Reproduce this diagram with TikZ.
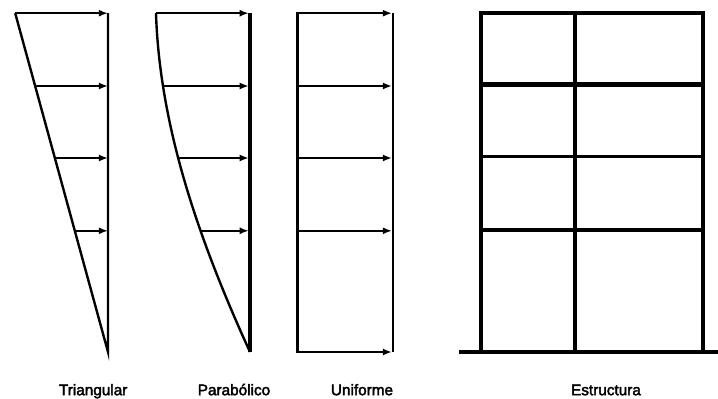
\documentclass[tikz,border=0pt]{standalone}
\usepackage{fontspec}
\setmainfont{Liberation Sans}
\newfontfamily\capfont[FakeBold=2.5]{Liberation Sans}
\usetikzlibrary{arrows.meta}
\begin{document}
\begin{tikzpicture}[
	load/.style={draw=black, line width=1.7pt, -{Latex[length=6.5pt,width=5pt]}},
	edge/.style={draw=black, line width=1.7pt, solid},
	column/.style={draw=black, line width=2.8pt, line join=miter},
	beam/.style={draw=black, line width=2.2pt},
	caption/.style={black, anchor=base, font=\capfont\fontsize{10.9}{13}\selectfont}]
	\useasboundingbox (0,0) rectangle (17.95,9.95);
	% triangular
	\draw[edge] (0.38,9.62) -- (2.70,1.15) -- (2.70,9.62);
	\draw[load] (0.38,9.62) -- (2.70,9.62);
	\draw[load] (0.88,7.80) -- (2.70,7.80);
	\draw[load] (1.37,6.00) -- (2.70,6.00);
	\draw[load] (1.87,4.18) -- (2.70,4.18);
	% parabolico
	\draw[edge] (3.90,9.62) .. controls (3.99,6.80) and (4.96,3.97) .. (6.25,1.15);
	\draw[draw=black, line width=2.4pt] (6.25,1.15) -- (6.25,9.62);
	\draw[load] (3.90,9.62) -- (6.22,9.62);
	\draw[load] (4.08,7.80) -- (6.22,7.80);
	\draw[load] (4.46,6.00) -- (6.22,6.00);
	\draw[load] (4.99,4.18) -- (6.22,4.18);
	% uniforme
	\draw[draw=black, line width=2.2pt] (7.43,9.65) -- (7.43,1.12);
	\draw[edge] (9.83,9.62) -- (9.83,1.15);
	\foreach \y in {9.62,7.80,6.00,4.18,1.15}
		\draw[load] (7.43,\y) -- (9.80,\y);
	% estructura
	\draw[column] (12.03,1.15) -- (12.03,9.62) -- (17.58,9.62) -- (17.58,1.15);
	\draw[column] (14.38,1.15) -- (14.38,9.62);
	\draw[beam, line width=3.6pt] (12.03,7.83) -- (17.58,7.83);
	\draw[beam] (12.03,6.03) -- (17.58,6.03);
	\draw[beam] (12.03,4.20) -- (17.58,4.20);
	\draw[column] (11.48,1.15) -- (17.95,1.15);
	% textos
	\node[caption] (triangular) at (2.33,0.07) {Triangular};
	\node[caption] (parabolico) at (5.85,0.07) {Parabólico};
	\node[caption] (uniforme) at (9.05,0.07) {Uniforme};
	\node[caption] (estructura) at (15.15,0.07) {Estructura};
\end{tikzpicture}
\end{document}
